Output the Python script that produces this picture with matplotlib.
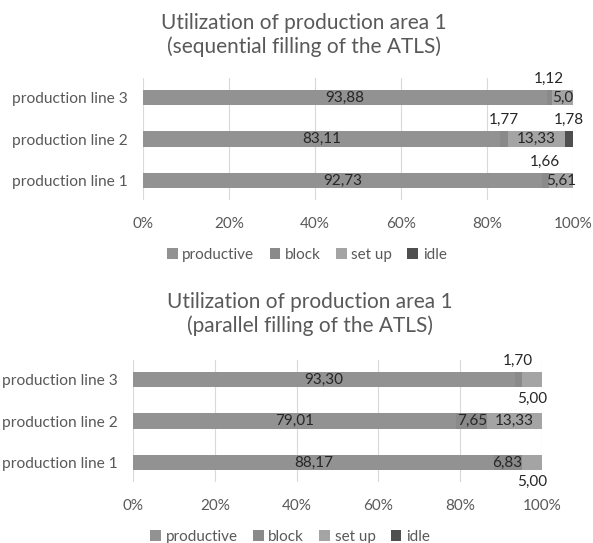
import matplotlib
matplotlib.use('Agg')
import matplotlib.pyplot as plt
import numpy as np
from matplotlib import rcParams

rcParams['font.family'] = ['Lato', 'DejaVu Sans']
rcParams['font.size'] = 11

lines = ['production line 1', 'production line 2', 'production line 3']
categories = ['productive', 'block', 'set up', 'idle']

# shares in percent, one list per production line (line 1, 2, 3)
seq_productive = [92.73, 83.11, 93.88]
seq_block = [1.66, 1.77, 1.12]
seq_setup = [5.61, 13.33, 5.0]
seq_idle = [0.0, 1.78, 0.0]
seq_labels = {
    'productive': ['92,73', '83,11', '93,88'],
    'block': ['1,66', '1,77', '1,12'],
    'set up': ['5,61', '13,33', '5,0'],
    'idle': ['', '1,78', ''],
}

par_productive = [88.17, 79.01, 93.30]
par_block = [6.83, 7.65, 1.70]
par_setup = [5.00, 13.33, 5.00]
par_idle = [0.0, 0.0, 0.0]
par_labels = {
    'productive': ['88,17', '79,01', '93,30'],
    'block': ['6,83', '7,65', '1,70'],
    'set up': ['5,00', '13,33', '5,00'],
    'idle': ['', '', ''],
}

colors = {'productive': '#929292', 'block': '#8a8a8a', 'set up': '#a4a4a4', 'idle': '#4f4f4f'}
text_grey = '#595959'

# where each small value label sits: 0 inside, +1 above, -1 below the bar
seq_place = {'productive': [0, 0, 0], 'block': [1, 1, 1], 'set up': [0, 0, 0], 'idle': [0, 1, 0]}
par_place = {'productive': [0, 0, 0], 'block': [0, 0, 1], 'set up': [-1, 0, -1], 'idle': [0, 0, 0]}


def draw(ax, series, labels, place, legend_x):
    y = np.arange(len(lines))
    left = np.zeros(len(lines))
    for cat, vals in zip(categories, series):
        vals = np.asarray(vals)
        ax.barh(y, vals, left=left, height=0.37, color=colors[cat], label=cat, zorder=2)
        for i, v in enumerate(vals):
            txt = labels[cat][i]
            if not txt:
                continue
            xc = left[i] + v / 2
            dy = place[cat][i] * 0.46
            ax.text(xc, y[i] + dy, txt, ha='center', va='center', fontsize=11,
                    color='#262626', zorder=3)
        left = left + vals

    ax.set_xlim(0, 100)
    ax.set_ylim(-0.47, 2.47)
    ax.set_xticks(np.arange(0, 101, 20))
    ax.set_xticklabels([f'{t}%' for t in range(0, 101, 20)])
    ax.set_yticks(y)
    ax.set_yticklabels(lines)
    ax.tick_params(length=0, colors=text_grey, labelsize=11)
    ax.tick_params(axis='y', labelsize=11.2, pad=11)
    ax.tick_params(axis='x', pad=12)
    ax.grid(axis='x', color='#d9d9d9', linewidth=0.8, zorder=0)
    for s in ax.spines.values():
        s.set_visible(False)
    ax.legend(loc='upper center', bbox_to_anchor=(legend_x, -0.28), ncol=4, frameon=False,
              fontsize=11, handlelength=0.7, handleheight=0.7, handletextpad=0.3,
              columnspacing=1.0, labelcolor=text_grey)


fig = plt.figure(figsize=(5.93, 5.43), dpi=100)
ax1 = fig.add_axes([143 / 593, 1 - 200 / 543, 430 / 593, 122 / 543])
ax2 = fig.add_axes([133 / 593, 1 - 482 / 543, 409 / 593, 122 / 543])

draw(ax1, [seq_productive, seq_block, seq_setup, seq_idle], seq_labels, seq_place, 0.381)
draw(ax2, [par_productive, par_block, par_setup, par_idle], par_labels, par_place, 0.384)

fig.text(304 / 593, 1 - 35 / 543, 'Utilization of production area 1\n(sequential filling of the ATLS)',
         ha='center', va='center', fontsize=15, color=text_grey, linespacing=1.2)
fig.text(310 / 593, 1 - 314 / 543, 'Utilization of production area 1\n(parallel filling of the ATLS)',
         ha='center', va='center', fontsize=15, color=text_grey, linespacing=1.2)

fig.savefig('out.png', dpi=100)
